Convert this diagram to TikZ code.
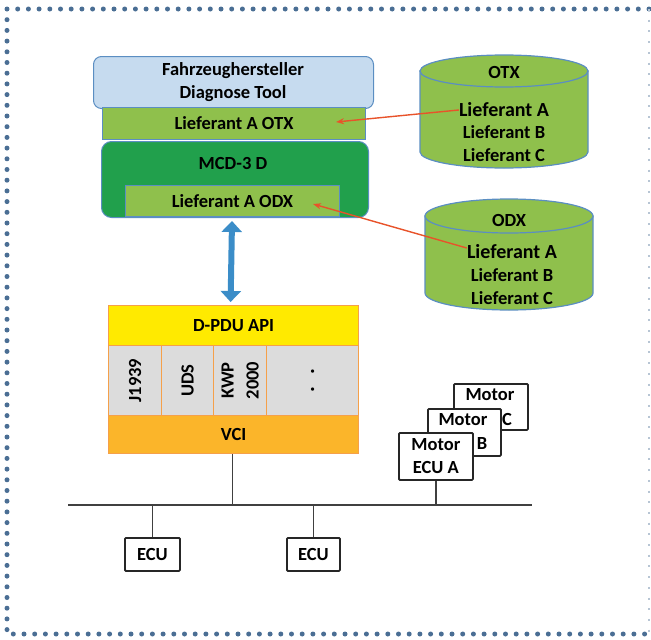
\documentclass[tikz,border=0pt]{standalone}
\usepackage{fontspec}
\setmainfont{Carlito}
\usetikzlibrary{arrows.meta}
\definecolor{lblue}{HTML}{C6DBEF}
\definecolor{bblue}{HTML}{5B8EC2}
\definecolor{lgreen}{HTML}{8FC04C}
\definecolor{dgreen}{HTML}{21A04C}
\definecolor{pyellow}{HTML}{FFEA00}
\definecolor{pgray}{HTML}{DCDCDC}
\definecolor{porange}{HTML}{FBB52A}
\definecolor{oborder}{HTML}{F5A04A}
\definecolor{redarr}{HTML}{E8532A}
\definecolor{arrblue}{HTML}{3B8DC8}
\definecolor{dotblue}{HTML}{4A6E94}
\tikzset{
  x=1pt,y=-1pt,
  lbl/.style={font=\bfseries\fontsize{18.5}{23}\selectfont, align=center, inner sep=0},
  big/.style={font=\bfseries\fontsize{20}{23}\selectfont},
  box/.style={draw=bblue, line width=1pt, inner sep=0, anchor=north west},
  pdubox/.style={draw=oborder, line width=1.2pt, inner sep=0, anchor=north west},
  ecubox/.style={draw=black!85, line width=1.8pt, fill=white, rounded corners=1pt, inner sep=0, anchor=north west,
     font=\bfseries\fontsize{18.5}{23}\selectfont, align=center},
  redline/.style={draw=redarr, line width=1.4pt, -{Stealth[length=8pt,width=6pt]}},
  wire/.style={draw=black!75, line width=1.6pt},
  cylfill/.style={fill=lgreen, draw=bblue, line width=1.2pt}
}
\begin{document}
\begin{tikzpicture}
\useasboundingbox (0,0) rectangle (651,640);
% dotted frame
\draw[dotblue, line width=5pt, line cap=round, dash pattern=on 0pt off 10.7pt]
  (7,9) -- (650,9) (7,9) -- (7,634) -- (650,634);
\draw[dotblue!40, line width=1.5pt, dash pattern=on 2pt off 8.7pt] (649,9) -- (649,634);

% top stack
\node[box, fill=lblue, rounded corners=8pt, minimum width=280pt, minimum height=52pt] (tool) at (93,56) {};
\node[lbl] (tooltxt) at (233,82) {Fahrzeughersteller\\Diagnose Tool};
\node[box, fill=lgreen, minimum width=263pt, minimum height=32pt] (lotx) at (102,107) {};
\node[lbl] at (lotx.center) {Lieferant A OTX};
\node[box, fill=dgreen, rounded corners=10pt, minimum width=267pt, minimum height=76pt] (mcd) at (101,141) {};
\node[lbl] at (233,163) {MCD-3 D};
\node[box, fill=lgreen, minimum width=214pt, minimum height=31pt] (lodx) at (125,185) {};
\node[lbl] at (lodx.center) {Lieferant A ODX};

% OTX cylinder
\path[cylfill] (420,71) -- (420,152) arc[start angle=180,end angle=0,x radius=84,y radius=16] -- (588,71) -- cycle;
\draw[cylfill] (504,71) ellipse[x radius=84,y radius=16];
\node[lbl] (otxh) at (504,72) {OTX};
\node[lbl, big] (otxa) at (504,110) {Lieferant A};
\node[lbl] (otxb) at (504,132) {Lieferant B};
\node[lbl] (otxc) at (504,155) {Lieferant C};

% ODX cylinder
\path[cylfill] (425,216) -- (425,293) arc[start angle=180,end angle=0,x radius=84,y radius=17] -- (593,216) -- cycle;
\draw[cylfill] (509,216) ellipse[x radius=84,y radius=17];
\node[lbl] (odxh) at (509,220) {ODX};
\node[lbl, big] (odxa) at (512,252) {Lieferant A};
\node[lbl] (odxb) at (512,275) {Lieferant B};
\node[lbl] (odxc) at (512,298) {Lieferant C};

% red arrows
\coordinate (otxtip) at (336,122);
\coordinate (odxtip) at (313,204);
\draw[redline] (otxa.west) -- (otxtip);
\draw[redline] ([yshift=4pt]odxa.west) -- (odxtip);

% D-PDU block
\node[pdubox, fill=pyellow, minimum width=250pt, minimum height=40pt] (dpdu) at (108,305) {};
\node[lbl] at (dpdu.center) {D-PDU API};
\node[pdubox, fill=pgray, minimum width=53pt, minimum height=70pt] (c1) at (108,345) {};
\node[pdubox, fill=pgray, minimum width=52pt, minimum height=70pt] (c2) at (161,345) {};
\node[pdubox, fill=pgray, minimum width=53pt, minimum height=70pt] (c3) at (213,345) {};
\node[pdubox, fill=pgray, minimum width=92pt, minimum height=70pt] (c4) at (266,345) {};
\node[lbl, rotate=90] at (c1.center) {J1939};
\node[lbl, rotate=90] at (c2.center) {UDS};
\node[lbl, rotate=90, font=\bfseries\fontsize{18.5}{25}\selectfont] at (c3.center) {KWP\\2000};
\node[lbl, rotate=90, font=\bfseries\fontsize{22}{25}\selectfont] at (c4.center) {.\hspace{12pt}.};
\node[pdubox, fill=porange, minimum width=250pt, minimum height=38pt] (vci) at (108,415) {};
\node[lbl] at (vci.center) {VCI};

% blue double arrow
\draw[arrblue, line width=6pt, {Triangle[width=20pt,length=11pt]}-{Triangle[width=20pt,length=11pt]}]
  ([xshift=-3pt,yshift=-3pt]mcd.south) -- ([xshift=-3pt,yshift=3pt]dpdu.north);

% bus
\coordinate (busl) at (68,505);
\coordinate (busr) at (532,505);
\draw[wire] (busl) -- (busr);
\draw[wire] ([xshift=-1pt]vci.south) -- ([xshift=-1pt]vci.south |- busl);

% ECUs
\node[ecubox, minimum width=55pt, minimum height=33pt] (ecu1) at (124,537) {ECU};
\node[ecubox, minimum width=53pt, minimum height=33pt] (ecu2) at (286,537) {ECU};
\draw[wire] (ecu1.north) -- (ecu1.north |- busl);
\draw[wire] (ecu2.north) -- (ecu2.north |- busl);

% Motor ECUs (stacked, partly hidden)
\node[ecubox, minimum width=74pt, minimum height=46pt] (mc) at (453,383) {};
\node[lbl] (mct) at (490,395) {Motor};
\node[lbl] (mcl) at (507,419) {C};
\node[ecubox, minimum width=73pt, minimum height=47pt] (mb) at (427,408) {};
\node[lbl] (mbt) at (463,420) {Motor};
\node[lbl] (mbl) at (482,443) {B};
\node[ecubox, minimum width=74pt, minimum height=47pt] (ma) at (398,432) {Motor\\ECU A};
\draw[wire] (ma.south) -- (ma.south |- busl);
\end{tikzpicture}
\end{document}
